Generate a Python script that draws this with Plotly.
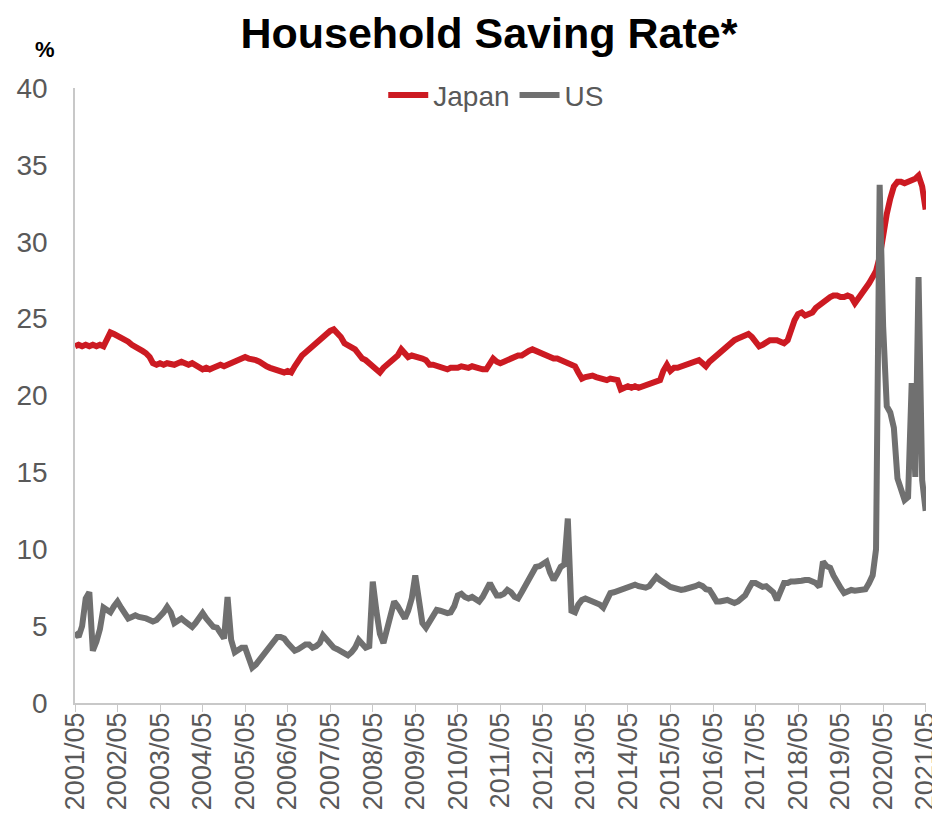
import pandas as pd
import plotly.graph_objects as go

# monthly, 2001/05 .. 2021/05
months = pd.date_range('2001-05-01', periods=241, freq='MS')

japan = [
    23.2, 23.3, 23.2, 23.3, 23.2, 23.3, 23.2, 23.3, 23.2, 23.6, 24.1, 24.0,
    23.9, 23.8, 23.6, 23.5, 23.3, 23.2, 23.1, 22.9, 22.75, 22.5, 22.1, 22.0,
    22.1, 22.0, 22.1, 22.0, 22.0, 22.1, 22.2, 22.1, 22.0, 22.1, 22.0, 21.9,
    21.7, 21.8, 21.7, 21.8, 21.9, 22.0, 21.9, 22.0, 22.1, 22.2, 22.3, 22.5,
    22.5, 22.4, 22.3, 22.3, 22.2, 22.0, 21.9, 21.8, 21.7, 21.7, 21.6, 21.5,
    21.6, 21.5, 21.9, 22.3, 22.6, 22.8, 23.0, 23.3, 23.5, 23.7, 23.9, 24.0,
    24.2, 24.3, 24.1, 23.8, 23.4, 23.3, 23.1, 23.0, 22.7, 22.4, 22.3, 22.1,
    22.0, 21.8, 21.5, 21.8, 22.0, 22.2, 22.5, 22.6, 23.0, 22.7, 22.5, 22.6,
    22.5, 22.4, 22.4, 22.3, 22.0, 22.0, 21.9, 21.8, 21.7, 21.7, 21.8, 21.8,
    21.8, 21.9, 21.8, 21.8, 21.9, 21.8, 21.8, 21.7, 21.7, 22.0, 22.4, 22.2,
    22.1, 22.2, 22.3, 22.5, 22.5, 22.6, 22.6, 22.8, 22.9, 23.0, 22.9, 22.8,
    22.7, 22.6, 22.5, 22.4, 22.4, 22.3, 22.3, 22.2, 22.0, 21.9, 21.5, 21.1,
    21.2, 21.3, 21.3, 21.2, 21.1, 21.0, 21.0, 21.1, 21.0, 21.0, 20.4, 20.5,
    20.6, 20.5, 20.6, 20.5, 20.6, 20.7, 20.7, 20.8, 20.9, 21.0, 21.6, 22.0,
    21.6, 21.8, 21.8, 21.9, 22.0, 22.0, 22.1, 22.2, 22.3, 22.1, 21.9, 22.2,
    22.4, 22.6, 22.8, 23.0, 23.3, 23.5, 23.6, 23.7, 23.8, 24.0, 24.0, 23.8,
    23.5, 23.2, 23.3, 23.5, 23.6, 23.6, 23.6, 23.5, 23.4, 23.6, 24.3, 24.9,
    25.3, 25.4, 25.2, 25.3, 25.4, 25.7, 25.9, 26.1, 26.3, 26.4, 26.5, 26.5,
    26.4, 26.4, 26.5, 26.4, 26.0, 26.3, 26.7, 27.0, 27.3, 27.7, 28.1, 29.0,
    30.5, 31.8, 32.8, 33.6, 33.9, 33.9, 33.8, 33.9, 33.9, 34.1, 34.3, 33.6,
    32.1,
]

us = [
    4.6, 4.3, 5.0, 6.8, 7.2, 3.4, 4.0, 4.8, 6.2, 6.0, 5.9, 6.3,
    6.6, 6.2, 5.8, 5.5, 5.6, 5.7, 5.6, 5.5, 5.5, 5.4, 5.3, 5.4,
    5.6, 5.9, 6.25, 5.9, 5.2, 5.4, 5.5, 5.3, 5.1, 4.95, 5.2, 5.5,
    5.85, 5.5, 5.2, 4.95, 4.9, 4.6, 4.2, 6.9, 4.1, 3.3, 3.5, 3.6,
    3.6, 3.0, 2.3, 2.5, 2.8, 3.1, 3.4, 3.7, 4.0, 4.3, 4.3, 4.2,
    3.9, 3.6, 3.4, 3.5, 3.7, 3.8, 3.8, 3.6, 3.7, 3.9, 4.4, 4.1,
    3.8, 3.6, 3.5, 3.4, 3.3, 3.1, 3.3, 3.6, 4.1, 3.9, 3.6, 3.7,
    7.9, 6.0, 4.5, 3.9, 4.8, 5.8, 6.6, 6.3, 5.8, 5.5, 6.0, 6.8,
    8.3, 6.5, 5.2, 4.9, 5.3, 5.8, 6.05, 6.0, 5.9, 5.85, 5.9, 6.3,
    7.0, 7.1, 6.9, 6.8, 6.9, 6.7, 6.6, 6.9, 7.3, 7.8, 7.4, 7.0,
    7.0, 7.1, 7.35, 7.2, 6.9, 6.8, 7.2, 7.6, 8.2, 8.5, 8.85, 8.9,
    9.0, 9.2, 8.5, 8.0, 8.4, 8.85, 9.0, 12.0, 6.0, 5.9, 6.4, 6.7,
    6.8, 6.7, 6.7, 6.6, 6.4, 6.2, 6.6, 7.15, 7.2, 7.3, 7.4, 7.5,
    7.6, 7.7, 7.7, 7.6, 7.5, 7.5, 7.6, 7.9, 8.2, 8.0, 7.8, 7.7,
    7.55, 7.5, 7.4, 7.35, 7.4, 7.5, 7.55, 7.6, 7.7, 7.6, 7.4, 7.35,
    7.0, 6.6, 6.6, 6.7, 6.7, 6.6, 6.5, 6.6, 6.8, 7.0, 7.4, 7.8,
    7.8, 7.7, 7.55, 7.6, 7.4, 7.2, 6.7, 7.3, 7.8, 7.8, 7.9, 7.9,
    7.9, 7.95, 8.0, 8.0, 7.9, 7.8, 7.55, 9.2, 8.9, 8.8, 8.3, 7.8,
    7.5, 7.15, 7.2, 7.35, 7.3, 7.35, 7.35, 7.4, 7.8, 8.3, 10.0, 33.7,
    24.5, 19.3, 18.9, 17.9, 14.6, 14.0, 13.2, 13.4, 20.8, 14.7, 27.7, 14.5,
    12.5,
]

font = 'Liberation Sans, Arial, sans-serif'

fig = go.Figure()
fig.add_trace(go.Scatter(x=months, y=japan, name='Japan', mode='lines',
                         line=dict(color='#CC1A22', width=6), cliponaxis=False))
fig.add_trace(go.Scatter(x=months, y=us, name='US', mode='lines',
                         line=dict(color='#707070', width=6), cliponaxis=False))

# page has an 8px body margin, so the figure is a bit smaller than the window
fig.update_layout(
    width=932, height=817,
    margin=dict(l=67, r=14, t=80, b=122, autoexpand=False),
    paper_bgcolor='white', plot_bgcolor='white',
    font=dict(family=font, color='#595959'),
    title=dict(text='<b>Household Saving Rate*</b>', x=0.516, xanchor='center',
               y=0.969, yanchor='middle',
               font=dict(size=43, color='black', family=font)),
    legend=dict(orientation='h', x=0.495, xanchor='center', y=0.988, yanchor='middle',
                font=dict(size=28, color='#595959'), bgcolor='rgba(0,0,0,0)',
                itemwidth=40, tracegroupgap=0),
    showlegend=True,
)

fig.update_xaxes(
    range=['2001-05-01', '2021-05-04'],
    tick0='2001-05-01', dtick='M12', tickformat='%Y/%m',
    tickangle=-90, tickfont=dict(size=27, color='#595959'),
    showline=True, linecolor='#C8C8C8', linewidth=1.5,
    ticks='outside', ticklen=7, tickcolor='#C8C8C8',
    ticklabelstandoff=-10, ticklabeloverflow='allow',
    showgrid=False, zeroline=False, automargin=False,
)
fig.update_yaxes(
    range=[0, 40], dtick=5,
    tickfont=dict(size=28, color='#595959'),
    showline=True, linecolor='#C8C8C8', linewidth=1.5,
    ticks='', ticklabelstandoff=20,
    showgrid=False, zeroline=False, automargin=False,
)

fig.add_annotation(text='<b>%</b>', xref='paper', yref='paper',
                   x=-0.035, y=1.062, xanchor='center', yanchor='middle',
                   showarrow=False, font=dict(size=22, color='black', family=font))

fig.write_html('out.html')
